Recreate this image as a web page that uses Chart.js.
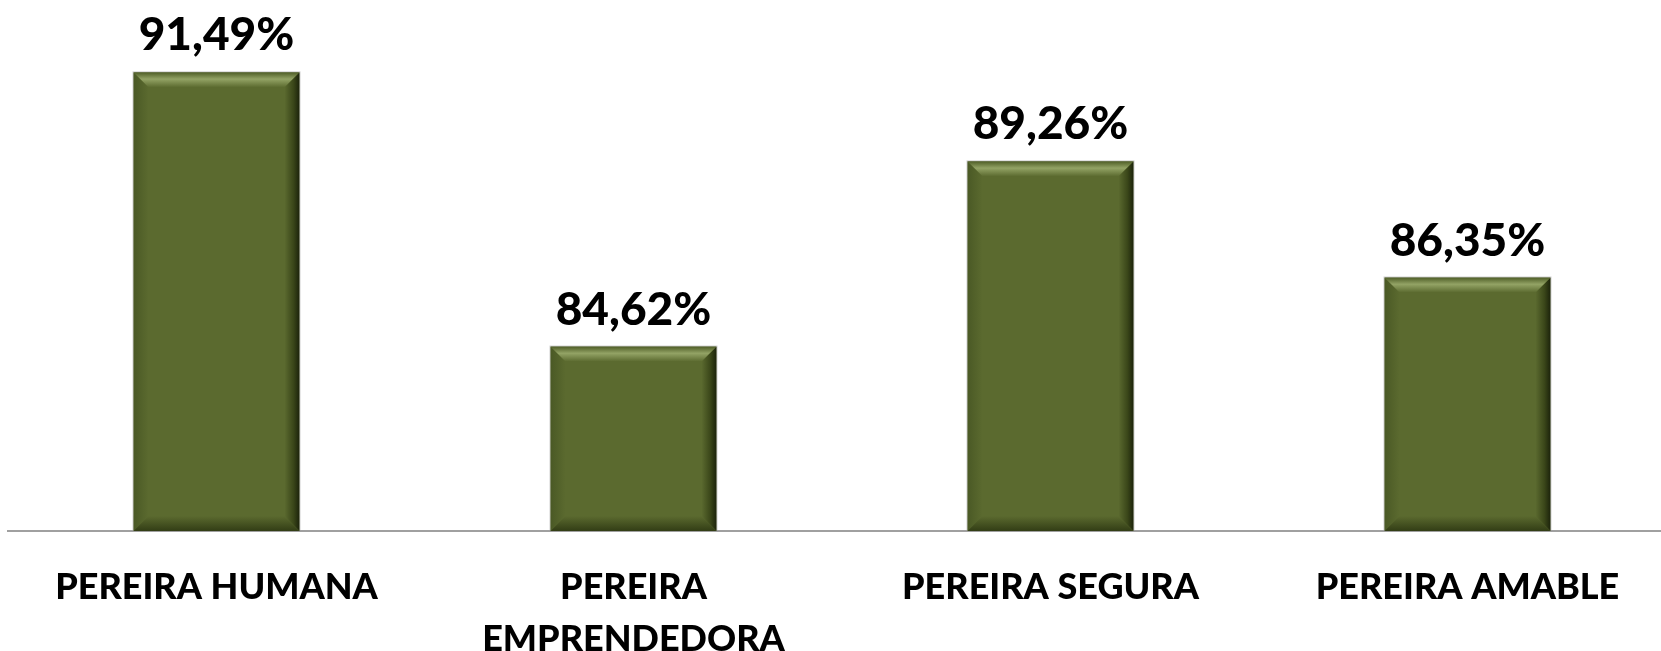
<!DOCTYPE html>
<html>
<head>
<meta charset="utf-8">
<script src="https://cdn.jsdelivr.net/npm/chart.js@4"></script>
<style>
  body { margin: 0; background: #fff; overflow: hidden; }
  #wrap { width: 1661px; height: 651px; overflow: hidden; }
</style>
</head>
<body>
<div id="wrap"><canvas id="myChart" width="1676" height="651"></canvas></div>
<script>
// Datos del gráfico
const categorias = [
    "PEREIRA HUMANA",
    ["PEREIRA", "EMPRENDEDORA"],
    "PEREIRA SEGURA",
    "PEREIRA AMABLE"
];
const porcentajes = [91.49, 84.62, 89.26, 86.35];

const colorBarra = "#5b6a2f";

// Formato con coma decimal
function formato(v) {
    return v.toFixed(2).replace('.', ',') + '%';
}

// Plugin: efecto de bisel sobre cada barra + etiquetas de valor
const biselPlugin = {
    id: 'bisel',
    afterDatasetsDraw(chart) {
        const ctx = chart.ctx;
        const meta = chart.getDatasetMeta(0);
        meta.data.forEach((bar, i) => {
            const left = bar.x - bar.width / 2;
            const right = bar.x + bar.width / 2;
            const top = bar.y;
            const bottom = Math.min(bar.base, chart.chartArea.bottom);
            const b = 15;
            ctx.save();

            // borde izquierdo
            let g = ctx.createLinearGradient(left, 0, left + b, 0);
            g.addColorStop(0, '#4a5925');
            g.addColorStop(1, colorBarra);
            ctx.fillStyle = g;
            ctx.beginPath();
            ctx.moveTo(left, top); ctx.lineTo(left + b, top + b);
            ctx.lineTo(left + b, bottom - b); ctx.lineTo(left, bottom);
            ctx.closePath(); ctx.fill();

            // borde derecho (oscuro)
            g = ctx.createLinearGradient(right - b, 0, right, 0);
            g.addColorStop(0, colorBarra);
            g.addColorStop(0.6, '#3a4619');
            g.addColorStop(1, '#1c230b');
            ctx.fillStyle = g;
            ctx.beginPath();
            ctx.moveTo(right, top); ctx.lineTo(right - b, top + b);
            ctx.lineTo(right - b, bottom - b); ctx.lineTo(right, bottom);
            ctx.closePath(); ctx.fill();

            // borde inferior
            g = ctx.createLinearGradient(0, bottom - b, 0, bottom);
            g.addColorStop(0, colorBarra);
            g.addColorStop(1, '#323d15');
            ctx.fillStyle = g;
            ctx.beginPath();
            ctx.moveTo(left, bottom); ctx.lineTo(left + b, bottom - b);
            ctx.lineTo(right - b, bottom - b); ctx.lineTo(right, bottom);
            ctx.closePath(); ctx.fill();

            // borde superior (brillo)
            g = ctx.createLinearGradient(0, top, 0, top + b);
            g.addColorStop(0, '#4f5e27');
            g.addColorStop(0.45, '#93a365');
            g.addColorStop(1, colorBarra);
            ctx.fillStyle = g;
            ctx.beginPath();
            ctx.moveTo(left, top); ctx.lineTo(right, top);
            ctx.lineTo(right - b, top + b); ctx.lineTo(left + b, top + b);
            ctx.closePath(); ctx.fill();

            // contorno suave
            ctx.strokeStyle = 'rgba(160,160,160,0.5)';
            ctx.lineWidth = 1;
            ctx.strokeRect(left - 0.5, top - 0.5, right - left + 1, bottom - top + 1);

            // etiqueta de valor
            ctx.fillStyle = '#000';
            ctx.font = '900 46px Lato';
            ctx.textAlign = 'center';
            ctx.textBaseline = 'alphabetic';
            ctx.fillText(formato(porcentajes[i]), bar.x, top - 22);
            ctx.restore();
        });
    }
};

const config = {
    type: 'bar',
    data: {
        labels: categorias,
        datasets: [{
            data: porcentajes,
            backgroundColor: colorBarra,
            borderWidth: 0,
            barPercentage: 0.398,
            categoryPercentage: 1
        }]
    },
    options: {
        responsive: false,
        animation: false,
        layout: { padding: { left: 8, right: 0, top: 52, bottom: 0 } },
        plugins: {
            legend: { display: false },
            tooltip: { enabled: false }
        },
        scales: {
            y: {
                display: false,
                min: 80,
                max: 92
            },
            x: {
                grid: { display: false },
                border: { display: true, color: '#a0a0a0', width: 2 },
                ticks: {
                    color: '#000',
                    font: { family: 'Lato', weight: '900', size: 36, lineHeight: 1.43 },
                    padding: 23,
                    maxRotation: 0,
                    autoSkip: false
                },
                afterFit(scale) { scale.height = 120; }
            }
        }
    },
    plugins: [biselPlugin]
};

const ctx = document.getElementById('myChart').getContext('2d');
const myChart = new Chart(ctx, config);
</script>
</body>
</html>
